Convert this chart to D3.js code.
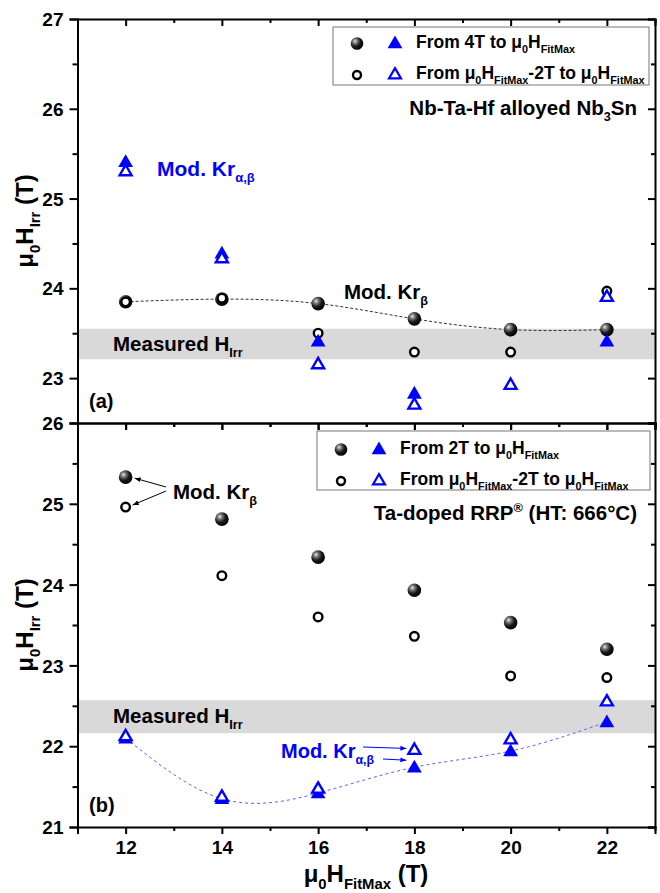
<html>
<head>
<meta charset="utf-8">
<script src="https://cdn.jsdelivr.net/npm/d3@7"></script>
<style>
  body { margin: 0; background: #fff; }
  text { font-family: "Liberation Sans", Arial, sans-serif; font-weight: bold; }
  .domain { stroke: #000; stroke-width: 2; }
  .tick line { stroke: #000; stroke-width: 2; }
</style>
</head>
<body>
<script>
// field values (T)
var fitMax = [12, 14, 16, 18, 20, 22];

// panel (a) Nb-Ta-Hf alloyed Nb3Sn
var aSphere   = [23.85, 23.88, 23.83, 23.66, 23.54, 23.54];
var aCircle   = [23.85, 23.89, 23.50, 23.29, 23.29, 23.97];
var aTriFill  = [25.41, 24.39, 23.41, 22.83, null, 23.41];
var aTriOpen  = [25.31, 24.34, 23.16, 22.71, 22.93, 23.91];
var aBand     = [23.21, 23.55];

// panel (b) Ta-doped RRP
var bSphere   = [25.33, 24.81, 24.34, 23.93, 23.53, 23.20];
var bCircle   = [24.96, 24.11, 23.60, 23.36, 22.87, 22.85];
var bTriFill  = [22.10, 21.35, 21.42, 21.74, 21.94, 22.30];
var bTriOpen  = [22.13, 21.38, 21.48, 21.96, 22.09, 22.56];
var bBand     = [22.16, 22.57];

var xTicks = [12, 14, 16, 18, 20, 22];
var xMinor = [11, 13, 15, 17, 19, 21, 23];
var aTicks = [23, 24, 25, 26, 27];
var aMinor = [23.5, 24.5, 25.5, 26.5];
var bTicks = [21, 22, 23, 24, 25, 26];
var bMinor = [21.5, 22.5, 23.5, 24.5, 25.5];

var W = 660, H = 893;
var left = 77.5, right = 655;
var blue = "#0000ff";

var svg = d3.select("body").append("svg").attr("width", W).attr("height", H);
var defs = svg.append("defs");

var grad = defs.append("radialGradient").attr("id", "ball")
  .attr("cx", "35%").attr("cy", "32%").attr("r", "70%");
grad.append("stop").attr("offset", "0%").attr("stop-color", "#e8e8e8");
grad.append("stop").attr("offset", "25%").attr("stop-color", "#7a7a7a");
grad.append("stop").attr("offset", "60%").attr("stop-color", "#1a1a1a");
grad.append("stop").attr("offset", "100%").attr("stop-color", "#000");

function arrowDef(id, col) {
  defs.append("marker").attr("id", id)
    .attr("viewBox", "0 0 10 10").attr("refX", 10).attr("refY", 5)
    .attr("markerWidth", 7).attr("markerHeight", 6).attr("orient", "auto")
    .attr("markerUnits", "userSpaceOnUse")
    .append("path").attr("d", "M0,1 L10,5 L0,9 Z").attr("fill", col);
}
arrowDef("arrK", "#000");
arrowDef("arrB", blue);

var x = d3.scaleLinear().domain([11, 23]).range([left, right]);
var ya = d3.scaleLinear().domain([22.5, 27]).range([423, 19]);
var yb = d3.scaleLinear().domain([21, 26]).range([827, 423]);

// text with sub/superscripts
function rich(g, parts, size) {
  var t = g.append("text").attr("font-size", size);
  var shift = 0;
  parts.forEach(function(p) {
    var m = p[1] || "";
    var target = m == "sub" ? size * 0.3 : m == "sup" ? -size * 0.4 : 0;
    t.append("tspan")
      .attr("dy", target - shift)
      .attr("font-size", m ? size * 0.62 : size)
      .text(p[0]);
    shift = target;
  });
  return t;
}

var triFill = d3.symbol().type(d3.symbolTriangle).size(95);
var triOpen = d3.symbol().type(d3.symbolTriangle).size(62);

function drawPoints(g, y, vals, kind) {
  var pts = fitMax.map(function(d, i) { return [d, vals[i]]; })
    .filter(function(d) { return d[1] != null; });
  var sel = g.selectAll(null).data(pts).enter();
  if (kind == "sphere") {
    sel.append("circle").attr("cx", d => x(d[0])).attr("cy", d => y(d[1]))
      .attr("r", 6.8).attr("fill", "url(#ball)");
  } else if (kind == "circle") {
    sel.append("circle").attr("cx", d => x(d[0])).attr("cy", d => y(d[1]))
      .attr("r", 4.3).attr("fill", "#fff").attr("stroke", "#000").attr("stroke-width", 2.4);
  } else if (kind == "triFill") {
    sel.append("path").attr("d", triFill)
      .attr("transform", d => "translate(" + x(d[0]) + "," + (y(d[1]) + 1) + ")")
      .attr("fill", blue);
  } else {
    sel.append("path").attr("d", triOpen)
      .attr("transform", d => "translate(" + x(d[0]) + "," + (y(d[1]) + 1) + ")")
      .attr("fill", "#fff").attr("stroke", blue).attr("stroke-width", 2.4);
  }
}

function panel(y, ticks, minor, band, showX) {
  var g = svg.append("g");
  var top = y.range()[1], bottom = y.range()[0];

  g.append("rect").attr("x", left).attr("width", right - left)
    .attr("y", y(band[1])).attr("height", y(band[0]) - y(band[1]))
    .attr("fill", "#d9d9d9");

  // left
  g.append("g").attr("transform", "translate(" + left + ",0)")
    .call(d3.axisLeft(y).tickValues(ticks).tickSize(8).tickPadding(6).tickFormat(d3.format("d")))
    .call(s => s.selectAll("text").attr("font-size", 19).attr("fill", "#000").attr("dy", "0.35em"));
  g.append("g").attr("transform", "translate(" + left + ",0)")
    .call(d3.axisLeft(y).tickValues(minor).tickSize(5).tickFormat(""))
    .call(s => s.select(".domain").remove());
  // right, inward
  g.append("g").attr("transform", "translate(" + right + ",0)")
    .call(d3.axisRight(y).tickValues(ticks).tickSize(-7).tickFormat(""));
  g.append("g").attr("transform", "translate(" + right + ",0)")
    .call(d3.axisRight(y).tickValues(minor).tickSize(-4).tickFormat(""))
    .call(s => s.select(".domain").remove());
  // top, inward
  g.append("g").attr("transform", "translate(0," + top + ")")
    .call(d3.axisTop(x).tickValues(xTicks).tickSize(-7).tickFormat(""));
  g.append("g").attr("transform", "translate(0," + top + ")")
    .call(d3.axisTop(x).tickValues(xMinor).tickSize(-4).tickFormat(""))
    .call(s => s.select(".domain").remove());
  // bottom, outward
  var bx = g.append("g").attr("transform", "translate(0," + bottom + ")")
    .call(d3.axisBottom(x).tickValues(xTicks).tickSize(7).tickPadding(7)
      .tickFormat(showX ? d3.format("d") : ""));
  bx.selectAll("text").attr("font-size", 19).attr("fill", "#000");
  g.append("g").attr("transform", "translate(0," + bottom + ")")
    .call(d3.axisBottom(x).tickValues(xMinor).tickSize(4).tickFormat(""))
    .call(s => s.select(".domain").remove());
  return g;
}

function curve(g, y, vals, col, dash) {
  var pts = fitMax.map(function(d, i) { return [d, vals[i]]; });
  g.append("path")
    .attr("d", d3.line().x(d => x(d[0])).y(d => y(d[1])).curve(d3.curveNatural)(pts))
    .attr("fill", "none").attr("stroke", col).attr("stroke-width", 1).attr("stroke-dasharray", dash);
}

function legend(g, bx, by, bw, bh, sx, tx, rows, label1) {
  g.append("rect").attr("x", bx).attr("y", by).attr("width", bw).attr("height", bh)
    .attr("fill", "#fff").attr("stroke", "#777").attr("stroke-width", 1);
  g.append("circle").attr("cx", sx).attr("cy", rows[0] - 4.5).attr("r", 6.3).attr("fill", "url(#ball)");
  g.append("path").attr("d", triFill).attr("transform", "translate(" + (tx - 21) + "," + (rows[0] - 4) + ")").attr("fill", blue);
  g.append("circle").attr("cx", sx).attr("cy", rows[1] - 4).attr("r", 4).attr("fill", "#fff")
    .attr("stroke", "#000").attr("stroke-width", 2.4);
  g.append("path").attr("d", triOpen).attr("transform", "translate(" + (tx - 21) + "," + (rows[1] - 4) + ")")
    .attr("fill", "#fff").attr("stroke", blue).attr("stroke-width", 2.2);
  rich(g, [[label1], ["μ"], ["0", "sub"], ["H"], ["FitMax", "sub"]], 17.5)
    .attr("x", tx).attr("y", rows[0]);
  rich(g, [["From "], ["μ"], ["0", "sub"], ["H"], ["FitMax", "sub"], ["-2T to "], ["μ"], ["0", "sub"], ["H"], ["FitMax", "sub"]], 17.5)
    .attr("x", tx).attr("y", rows[1]);
}

// ---------- panel (a)
var ga = panel(ya, aTicks, aMinor, aBand, false);
curve(ga, ya, aSphere, "#333", "3,2");
drawPoints(ga, ya, aSphere, "sphere");
drawPoints(ga, ya, aCircle, "circle");
drawPoints(ga, ya, aTriFill, "triFill");
drawPoints(ga, ya, aTriOpen, "triOpen");
legend(ga, 333, 27, 316, 58, 357, 416, [48, 79], "From 4T to ");
rich(ga, [["Nb-Ta-Hf alloyed Nb"], ["3", "sub"], ["Sn"]], 20.5)
  .attr("x", 637).attr("y", 115).attr("text-anchor", "end");
rich(ga, [["Mod. Kr"], ["α,β", "sub"]], 21).attr("x", 157).attr("y", 176).attr("fill", blue);
rich(ga, [["Mod. Kr"], ["β", "sub"]], 20.5).attr("x", 344).attr("y", 299);
rich(ga, [["Measured H"], ["Irr", "sub"]], 20.5).attr("x", 113).attr("y", 351);
ga.append("text").attr("x", 89).attr("y", 408).attr("font-size", 20).text("(a)");

// ---------- panel (b)
var gb = panel(yb, bTicks, bMinor, bBand, true);
curve(gb, yb, bTriFill, "#6060ff", "3,3");
drawPoints(gb, yb, bSphere, "sphere");
drawPoints(gb, yb, bCircle, "circle");
drawPoints(gb, yb, bTriFill, "triFill");
drawPoints(gb, yb, bTriOpen, "triOpen");
legend(gb, 317, 431, 333, 59, 341, 400, [454, 485], "From 2T to ");
rich(gb, [["Ta-doped RRP"], ["®", "sup"], [" (HT: 666°C)"]], 20.5)
  .attr("x", 637).attr("y", 520).attr("text-anchor", "end");
rich(gb, [["Mod. Kr"], ["β", "sub"]], 20.5).attr("x", 173).attr("y", 499);
gb.append("line").attr("x1", 166).attr("y1", 487)
  .attr("x2", x(12) + 9).attr("y2", yb(bSphere[0]) + 1)
  .attr("stroke", "#000").attr("stroke-width", 1).attr("marker-end", "url(#arrK)");
gb.append("line").attr("x1", 166).attr("y1", 491)
  .attr("x2", x(12) + 7).attr("y2", yb(bCircle[0]) - 2)
  .attr("stroke", "#000").attr("stroke-width", 1).attr("marker-end", "url(#arrK)");
rich(gb, [["Measured H"], ["Irr", "sub"]], 20.5).attr("x", 113).attr("y", 723);
rich(gb, [["Mod. Kr"], ["α,β", "sub"]], 20).attr("x", 281).attr("y", 758).attr("fill", blue);
gb.append("line").attr("x1", 363).attr("y1", 747)
  .attr("x2", x(18) - 8).attr("y2", yb(bTriOpen[3]) - 1)
  .attr("stroke", blue).attr("stroke-width", 1).attr("marker-end", "url(#arrB)");
gb.append("line").attr("x1", 383).attr("y1", 759)
  .attr("x2", x(18) - 8).attr("y2", yb(bTriFill[3]) - 7)
  .attr("stroke", blue).attr("stroke-width", 1).attr("marker-end", "url(#arrB)");
gb.append("text").attr("x", 89).attr("y", 812).attr("font-size", 20).text("(b)");

// axis titles
rich(svg, [["μ"], ["0", "sub"], ["H"], ["Irr", "sub"], [" (T)"]], 24)
  .attr("text-anchor", "middle").attr("transform", "translate(33,221) rotate(-90)");
rich(svg, [["μ"], ["0", "sub"], ["H"], ["Irr", "sub"], [" (T)"]], 24)
  .attr("text-anchor", "middle").attr("transform", "translate(33,625) rotate(-90)");
rich(svg, [["μ"], ["0", "sub"], ["H"], ["FitMax", "sub"], [" (T)"]], 24)
  .attr("text-anchor", "middle").attr("x", 366).attr("y", 882);
</script>
</body>
</html>
